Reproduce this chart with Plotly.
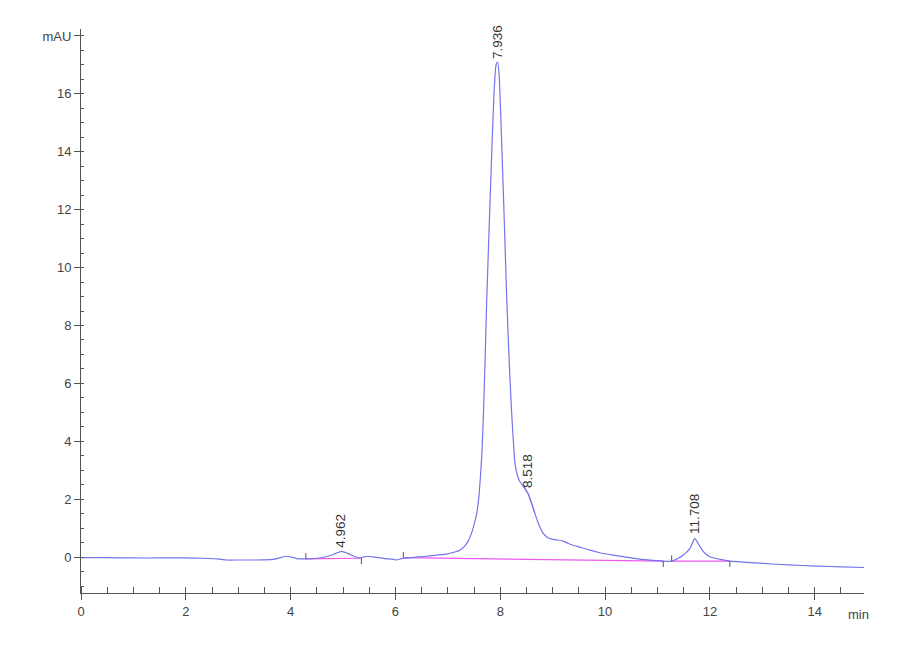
import plotly.graph_objects as go

# --- 크로마토그램 데이터 ---
time_min = [0.0, 0.5, 1.0, 1.5, 2.0, 2.3, 2.6, 2.78, 3.0, 3.3, 3.67, 3.8, 3.92, 4.02, 4.11,
            4.29, 4.5, 4.7, 4.85, 4.97, 5.1, 5.22, 5.32, 5.4, 5.48, 5.6, 5.8, 5.95, 6.02, 6.1,
            6.17, 6.4, 6.66, 6.97, 7.1, 7.23, 7.32, 7.39, 7.45, 7.5, 7.55, 7.59, 7.62, 7.65,
            7.68, 7.71, 7.74, 7.79, 7.83, 7.88, 7.92, 7.95, 7.98, 8.04, 8.08, 8.12, 8.16, 8.21,
            8.25, 8.28, 8.33, 8.37, 8.44, 8.5, 8.53, 8.6, 8.66, 8.74, 8.82, 8.9, 9.01, 9.1,
            9.2, 9.3, 9.39, 9.55, 9.71, 9.9, 10.15, 10.4, 10.66, 10.9, 11.11, 11.2, 11.27,
            11.4, 11.49, 11.56, 11.62, 11.67, 11.71, 11.75, 11.81, 11.9, 12.0, 12.2, 12.38,
            12.7, 13.01, 13.5, 14.03, 14.5, 14.94]
signal_mau = [-0.02, -0.02, -0.03, -0.03, -0.03, -0.04, -0.06, -0.1, -0.1, -0.1, -0.08, -0.02,
              0.03, 0.0, -0.05, -0.06, -0.04, 0.02, 0.12, 0.2, 0.12, 0.02, -0.03, 0.01, 0.03,
              0.0, -0.05, -0.07, -0.1, -0.06, -0.04, 0.0, 0.04, 0.1, 0.16, 0.24, 0.38, 0.56,
              0.82, 1.12, 1.5, 2.05, 2.75, 3.6, 5.0, 6.8, 8.8, 11.5, 13.6, 16.0, 17.0, 17.1,
              16.6, 13.6, 11.4, 9.1, 7.2, 5.2, 4.0, 3.24, 2.8, 2.62, 2.45, 2.28, 2.2, 1.85,
              1.51, 1.1, 0.82, 0.68, 0.61, 0.59, 0.55, 0.47, 0.41, 0.33, 0.24, 0.15, 0.07, 0.0,
              -0.07, -0.11, -0.14, -0.15, -0.14, -0.04, 0.07, 0.18, 0.3, 0.5, 0.65, 0.55, 0.36,
              0.14, 0.01, -0.08, -0.14, -0.18, -0.22, -0.27, -0.31, -0.34, -0.36]

# 적분 기준선 (시작/끝)
base_start_t = [4.29, 6.15, 11.27]
base_start_y = [-0.06, -0.02, -0.14]
base_end_t = [5.35, 11.11, 12.38]
base_end_y = [-0.04, -0.14, -0.14]

# 어깨 피크(8.518) 스킴 구간
skim_from, skim_to = 8.44, 8.66

# 피크 라벨
peak_rt = [4.962, 7.936, 8.518, 11.708]
peak_label = ["4.962", "7.936", "8.518", "11.708"]
peak_top = [0.22, 17.1, 2.3, 0.68]

y_tickvals = [0, 2, 4, 6, 8, 10, 12, 14, 16, 18]
y_ticktext = ["0", "2", "4", "6", "8", "10", "12", "14", "16", "mAU"]
x_tickvals = [0, 2, 4, 6, 8, 10, 12, 14]

BLUE = "#7474ee"
MAGENTA = "#f058f0"
AXIS = "#555555"
FONT = "Liberation Sans"

fig = go.Figure()

# 기준선 (분홍)
bx, by = [], []
for t0, y0, t1, y1 in zip(base_start_t, base_start_y, base_end_t, base_end_y):
    bx += [t0, t1, None]
    by += [y0, y1, None]
skim = [(t, v) for t, v in zip(time_min, signal_mau) if skim_from <= t <= skim_to]
bx += [t for t, _ in skim]
by += [v for _, v in skim]
fig.add_trace(go.Scatter(x=bx, y=by, mode="lines", line=dict(color=MAGENTA, width=1.2),
                         showlegend=False, hoverinfo="skip"))

# 신호 (파랑)
fig.add_trace(go.Scatter(x=time_min, y=signal_mau, mode="lines",
                         line=dict(color=BLUE, width=1.2, shape="spline", smoothing=0.5),
                         showlegend=False))

# 적분 경계 표시 (작은 세로선)
mx, my = [], []
for t0, y0, t1, y1 in zip(base_start_t, base_start_y, base_end_t, base_end_y):
    mx += [t0, t0, None, t1, t1, None]
    my += [y0, y0 + 0.2, None, y1, y1 - 0.2, None]
fig.add_trace(go.Scatter(x=mx, y=my, mode="lines", line=dict(color="#555", width=1),
                         showlegend=False, hoverinfo="skip"))

annotations = []
for rt, lab, top in zip(peak_rt, peak_label, peak_top):
    annotations.append(dict(x=rt, y=top, text=lab, textangle=-90, showarrow=False,
                            xanchor="center", yanchor="bottom", yshift=1,
                            font=dict(family=FONT, size=13.5, color="#333")))
annotations.append(dict(x=1, y=0, xref="paper", yref="paper", text="min", showarrow=False,
                        xanchor="center", yanchor="top", xshift=-6, yshift=-12,
                        font=dict(family=FONT, size=13, color="#444")))

fig.update_layout(
    width=900, height=660,
    paper_bgcolor="white", plot_bgcolor="white",
    margin=dict(l=73, r=44, t=21, b=75),
    font=dict(family=FONT, size=13, color="#444"),
    annotations=annotations,
)

fig.update_xaxes(
    range=[0, 14.94], tickvals=x_tickvals, showgrid=False, zeroline=False,
    showline=True, linecolor=AXIS, linewidth=1,
    ticks="outside", ticklen=6, tickcolor=AXIS,
    minor=dict(dtick=0.5, tick0=0, ticks="inside", ticklen=6, tickcolor=AXIS, showgrid=False),
)
fig.update_yaxes(
    range=[-1.24, 18.24], tickvals=y_tickvals, ticktext=y_ticktext,
    showgrid=False, zeroline=False,
    showline=True, linecolor=AXIS, linewidth=1,
    ticks="outside", ticklen=6, tickcolor=AXIS,
    minor=dict(dtick=0.5, tick0=0, ticks="inside", ticklen=3, tickcolor=AXIS, showgrid=False),
)

fig.write_html("out.html")
